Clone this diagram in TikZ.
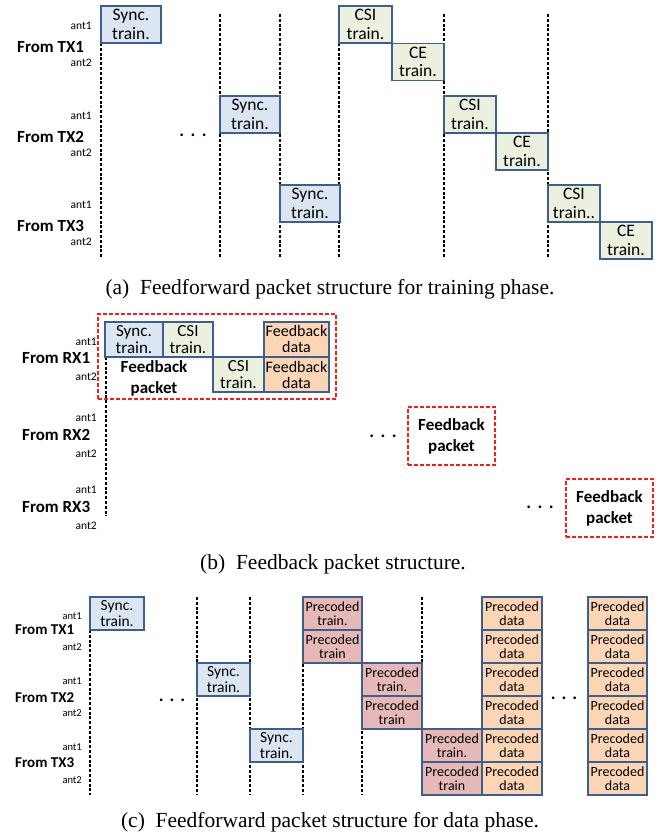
\documentclass[tikz,border=0pt]{standalone}
\usepackage{fontspec}
\setmainfont{Liberation Serif}
\newfontfamily\carl{Carlito}
\definecolor{bcol}{HTML}{3D5F8E}
\definecolor{syncf}{HTML}{DCE6F2}
\definecolor{csif}{HTML}{EBF1DE}
\definecolor{dataf}{HTML}{FCD5B5}
\definecolor{precf}{HTML}{E6B9B8}
\definecolor{redd}{HTML}{FF1A1A}
\tikzset{
  blk/.style={draw=bcol, line width=1.6pt, inner sep=0pt, align=center},
  blka/.style={blk, minimum height=37pt, font=\carl\fontsize{17.5}{18.5}\selectfont},
  synca/.style={blka, fill=syncf, minimum width=60pt},
  csia/.style={blka, fill=csif, minimum width=52.5pt},
  blkb/.style={blk, minimum height=35pt, font=\carl\fontsize{17}{17.5}\selectfont},
  syncb/.style={blkb, fill=syncf},
  csib/.style={blkb, fill=csif},
  datab/.style={blk, minimum height=35pt, fill=dataf, minimum width=65pt, font=\carl\fontsize{16}{16}\selectfont},
  blkc/.style={blk, minimum height=33pt, minimum width=59.5pt, font=\carl\fontsize{14}{13.5}\selectfont},
  syncc/.style={blk, minimum height=33pt, minimum width=53.5pt, fill=syncf, font=\carl\fontsize{15.5}{15.5}\selectfont},
  precc/.style={blkc, fill=precf},
  datac/.style={blkc, fill=dataf},
  vline/.style={line width=1.4pt, dash pattern=on 3pt off 1.8pt},
  pkt/.style={draw=redd, line width=1.8pt, dash pattern=on 4pt off 2pt, align=center, inner sep=0pt, font=\carl\bfseries\fontsize{17}{21}\selectfont},
  antl/.style={anchor=east, inner sep=0pt, font=\carl\fontsize{11.5}{11.5}\selectfont},
  antc/.style={anchor=east, inner sep=0pt, font=\carl\fontsize{10.5}{10.5}\selectfont},
  froml/.style={anchor=west, inner sep=0pt, font=\carl\bfseries\fontsize{17}{17}\selectfont},
  fromc/.style={anchor=west, inner sep=0pt, font=\carl\bfseries\fontsize{15}{15}\selectfont},
  dotsl/.style={inner sep=0pt, font=\carl\bfseries\fontsize{18}{18}\selectfont},
  capt/.style={inner sep=0pt, font=\fontsize{21.5}{23}\selectfont},
}
\begin{document}
\begin{tikzpicture}[x=1pt,y=-1pt]
\useasboundingbox (0,0) rectangle (667,840);
% ---------------- (a) ----------------
\coordinate (a220t) at (220,14); \coordinate (a220b) at (220,258);
\coordinate (a280t) at (280,14); \coordinate (a280b) at (280,258);
\coordinate (a444t) at (444,14); \coordinate (a444b) at (444,258);
\coordinate (a548t) at (548,14); \coordinate (a548b) at (548,258);
\coordinate (a101b) at (101,258); \coordinate (a339b) at (339,258);
\draw[vline] (a220t) -- (a220b);
\draw[vline] (a280t) -- (a280b);
\draw[vline] (a444t) -- (a444b);
\draw[vline] (a548t) -- (a548b);
\draw[vline] (101,43) -- (a101b);
\draw[vline] (339,43) -- (a339b);
\node[synca] (as1) at (131,24.5) {Sync.\\train.};
\node[csia] (ac1) at (365.5,24.5) {CSI\\train.};
\node[csia] (ae1) at (418,62) {CE\\train.};
\node[synca] (as2) at (250,114.5) {Sync.\\train.};
\node[csia] (ac2) at (470,114.5) {CSI\\train.};
\node[csia] (ae2) at (522,151.5) {CE\\train.};
\node[synca] (as3) at (310,203.5) {Sync.\\train.};
\node[csia] (ac3) at (574,203.5) {CSI\\train..};
\node[csia] (ae3) at (626,240.5) {CE\\train.};
\node[antl] (aa11) at (92,26) {ant1};
\node[froml] (atx1) at (17,47) {From TX1};
\node[antl] (aa12) at (92,63) {ant2};
\node[antl] (aa21) at (92,116) {ant1};
\node[froml] (atx2) at (17,137) {From TX2};
\node[antl] (aa22) at (92,153) {ant2};
\node[antl] (aa31) at (92,205) {ant1};
\node[froml] (atx3) at (17,226) {From TX3};
\node[antl] (aa32) at (92,242) {ant2};
\node[dotsl] (adots) at (193,135) {.\hspace{6.5pt}.\hspace{6.5pt}.};
\node[capt] (capa) at (330,289) {(a)\enspace Feedforward packet structure for training phase.};
% ---------------- (b) ----------------
\draw[vline] (106,357) -- (106,516);
\node[pkt, minimum width=238pt, minimum height=85pt] (bp1) at (217,356.5) {};
\node[syncb, minimum width=58pt] (bs1) at (134,339.5) {Sync.\\train.};
\node[csib, minimum width=50pt] (bc1) at (188,339.5) {CSI\\train.};
\node[csib, minimum width=51pt] (bc2) at (238.5,374.5) {CSI\\train.};
\node[datab] (bd1) at (296.5,339.5) {Feedback\\data};
\node[datab] (bd2) at (296.5,374.5) {Feedback\\data};
\node[inner sep=0pt, align=center, font=\carl\bfseries\fontsize{17}{21}\selectfont] (bfp) at (154,378) {Feedback\\packet};
\node[pkt, minimum width=87pt, minimum height=58pt] (bp2) at (451.5,436) {Feedback\\packet};
\node[pkt, minimum width=87pt, minimum height=58pt] (bp3) at (609.5,508) {Feedback\\packet};
\node[antl] (ba11) at (97,342) {ant1};
\node[froml] (brx1) at (22,358) {From RX1};
\node[antl] (ba12) at (97,377) {ant2};
\node[antl] (ba21) at (97,418) {ant1};
\node[froml] (brx2) at (22,435) {From RX2};
\node[antl] (ba22) at (97,454) {ant2};
\node[antl] (ba31) at (97,490) {ant1};
\node[froml] (brx3) at (22,507) {From RX3};
\node[antl] (ba32) at (97,526) {ant2};
\node[dotsl] (bdots2) at (383,436) {.\hspace{6.5pt}.\hspace{6.5pt}.};
\node[dotsl] (bdots3) at (540,507) {.\hspace{6.5pt}.\hspace{6.5pt}.};
\node[capt] (capb) at (333,564) {(b)\enspace Feedback packet structure.};
% ---------------- (c) ----------------
\draw[vline] (90,630) -- (90,795);
\draw[vline] (197,597) -- (197,795);
\draw[vline] (250,597) -- (250,795);
\draw[vline] (303,597) -- (303,795);
\draw[vline] (362,597) -- (362,795);
\draw[vline] (422,597) -- (422,795);
\node[syncc] (cs1) at (117,613.5) {Sync.\\train.};
\node[syncc] (cs2) at (223.5,679.5) {Sync.\\train.};
\node[syncc] (cs3) at (276.5,745.5) {Sync.\\train.};
\node[precc] (cp11) at (332.5,613.5) {Precoded\\train.};
\node[precc] (cp12) at (332.5,646.5) {Precoded\\train};
\node[precc] (cp21) at (392,679.5) {Precoded\\train.};
\node[precc] (cp22) at (392,712.5) {Precoded\\train};
\node[precc] (cp31) at (452,745.5) {Precoded\\train.};
\node[precc] (cp32) at (452,778.5) {Precoded\\train};
\foreach \i/\y in {1/613.5,2/646.5,3/679.5,4/712.5,5/745.5,6/778.5}{
  \node[datac] (cd1\i) at (512,\y) {Precoded\\data};
  \node[datac] (cd2\i) at (617.5,\y) {Precoded\\data};
}
\node[antc] (ca11) at (82,616) {ant1};
\node[fromc] (ctx1) at (15,630) {From TX1};
\node[antc] (ca12) at (82,647) {ant2};
\node[antc] (ca21) at (82,681) {ant1};
\node[fromc] (ctx2) at (15,698) {From TX2};
\node[antc] (ca22) at (82,713) {ant2};
\node[antc] (ca31) at (82,747) {ant1};
\node[fromc] (ctx3) at (15,763) {From TX3};
\node[antc] (ca32) at (82,780) {ant2};
\node[dotsl] (cdots1) at (172,700) {.\hspace{6pt}.\hspace{6pt}.};
\node[dotsl] (cdots2) at (564,698) {.\hspace{6pt}.\hspace{6pt}.};
\node[capt] (capc) at (330,822) {(c)\enspace Feedforward packet structure for data phase.};
\end{tikzpicture}
\end{document}
